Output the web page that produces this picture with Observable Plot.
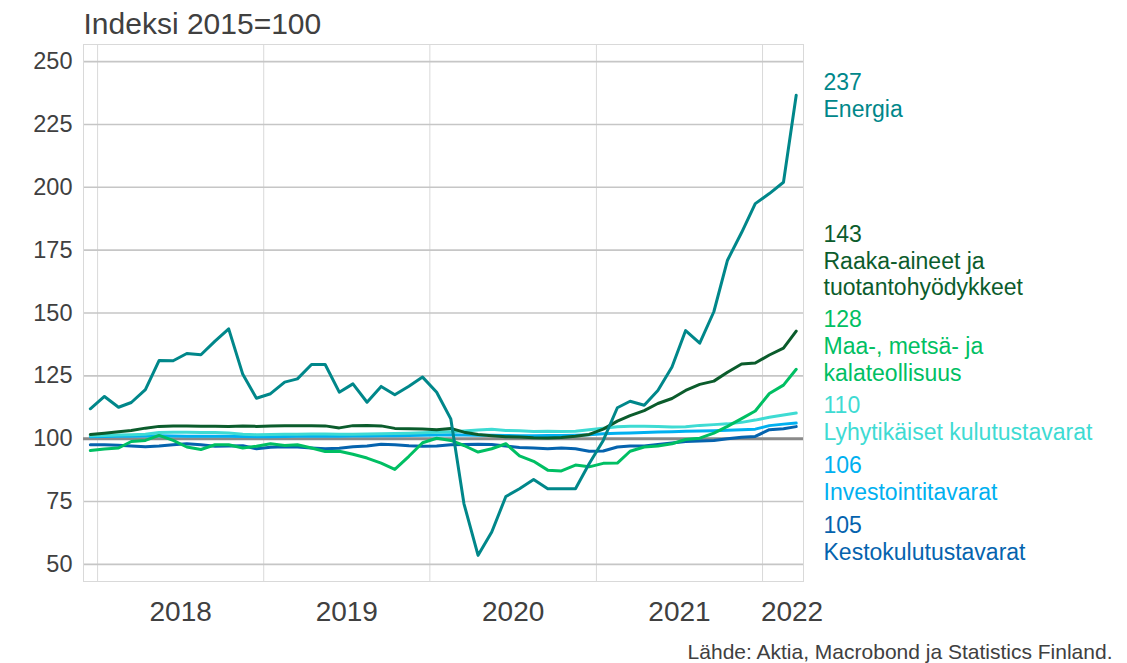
<!DOCTYPE html>
<html><head><meta charset="utf-8">
<script src="https://cdn.jsdelivr.net/npm/d3@7"></script>
<script src="https://cdn.jsdelivr.net/npm/@observablehq/plot@0.6"></script>
<style>body{margin:0;background:#fff} svg{display:block}</style>
</head><body><div id="chart"></div>
<script>
// Months (Dec 2017 – Mar 2022)
const months = ["2017-12",
 "2018-01","2018-02","2018-03","2018-04","2018-05","2018-06","2018-07","2018-08","2018-09","2018-10","2018-11","2018-12",
 "2019-01","2019-02","2019-03","2019-04","2019-05","2019-06","2019-07","2019-08","2019-09","2019-10","2019-11","2019-12",
 "2020-01","2020-02","2020-03","2020-04","2020-05","2020-06","2020-07","2020-08","2020-09","2020-10","2020-11","2020-12",
 "2021-01","2021-02","2021-03","2021-04","2021-05","2021-06","2021-07","2021-08","2021-09","2021-10","2021-11","2021-12",
 "2022-01","2022-02","2022-03"];

const seriesNames = ["Energia","Raaka-aineet ja\ntuotantohyödykkeet","Maa-, metsä- ja\nkalateollisuus","Lyhytikäiset kulutustavarat","Investointitavarat","Kestokulutustavarat"];

const energia = [111.9,116.8,112.5,114.4,119.5,131.1,131.0,133.9,133.4,138.8,143.7,125.6,116.1,117.9,122.5,123.8,129.5,129.5,118.5,121.8,114.5,120.8,117.5,120.9,124.5,118.5,107.9,74.1,53.6,62.9,77.0,80.1,83.8,80.1,80.1,80.1,90.0,99.3,112.3,114.9,113.3,119.2,128.5,143.0,138.0,150.5,171.0,182.0,193.5,197.5,202.0,236.6];
const raaka = [101.7,102.2,102.8,103.3,104.2,104.9,105.1,105.1,105.0,105.0,104.9,105.1,104.9,105.1,105.2,105.2,105.2,105.1,104.3,105.2,105.3,105.1,104.1,104.0,103.9,103.6,104.1,102.6,101.7,101.2,100.8,100.7,100.4,100.3,100.5,101.0,101.7,103.8,107.0,109.2,111.2,114.0,116.0,119.2,121.6,122.9,126.4,129.7,130.1,133.3,136.0,142.8];
const maa = [95.3,95.9,96.3,98.9,99.3,101.3,99.3,96.7,95.7,97.6,97.6,96.3,97.0,98.0,97.3,97.6,96.3,94.9,95.0,93.8,92.3,90.3,87.8,93.0,98.4,100.2,99.3,97.3,94.7,96.0,98.0,93.2,91.0,87.5,87.2,89.5,88.8,90.2,90.3,95.0,96.7,97.1,98.0,99.7,100.2,102.2,104.9,108.0,111.0,118.0,121.3,127.6];
const lyhyt = [101.2,101.3,101.5,101.6,101.8,102.5,102.6,102.6,102.5,102.5,102.3,101.8,101.6,101.7,101.8,101.8,101.9,101.9,101.8,101.8,101.9,102.0,102.1,102.2,102.4,102.6,102.8,103.1,103.5,103.8,103.3,103.2,102.9,103.0,102.9,103.0,103.6,104.2,104.8,105.0,105.0,104.9,104.7,104.8,105.3,105.6,105.9,106.5,107.4,108.5,109.4,110.2];
const invest = [100.8,100.9,101.0,101.0,101.1,101.2,101.1,101.0,101.0,101.0,101.0,100.9,100.8,100.8,100.9,101.0,101.0,101.0,101.0,101.1,101.1,101.2,101.2,101.3,101.4,101.5,101.6,101.5,101.4,101.4,101.3,101.2,101.2,101.3,101.3,101.4,101.6,102.0,102.2,102.3,102.5,102.7,102.8,103.0,103.1,103.2,103.4,103.6,103.8,105.2,105.8,106.2];
const kesto = [97.6,97.6,97.4,97.1,96.8,97.1,97.6,98.0,97.6,97.0,97.1,97.2,96.0,96.6,96.8,96.7,96.3,96.0,96.2,96.8,97.1,97.8,97.6,97.2,97.0,97.1,97.6,97.7,97.8,97.7,97.1,96.5,96.3,96.0,96.3,96.0,95.0,95.1,96.7,97.1,97.1,97.7,98.3,98.9,99.1,99.3,100.0,100.6,100.9,103.6,104.0,104.8];

const yTicks = [50,75,100,125,150,175,200,225,250];
const yearLabels = ["2018","2019","2020","2021","2022"];
const title = "Indeksi 2015=100";
const caption = "Lähde: Aktia, Macrobond ja Statistics Finland.";

// styling / layout
const colors = ["#00878A","#0B5C2C","#00BF63","#3EDBD3","#00B0F0","#0563AE"];
const labelTop = [246.3,186.0,151.9,117.7,93.9,70.0]; // label block positions (y units)

const seriesValues = [energia, raaka, maa, lyhyt, invest, kesto];
const parse = s => new Date(Date.UTC(+s.slice(0,4), +s.slice(5,7)-1, 16));
const rows = [];
[5,4,3,2,1,0].forEach(k => {
  seriesValues[k].forEach((v,i) => rows.push({series: seriesNames[k], date: parse(months[i]), value: v}));
});
const xStart = new Date(Date.UTC(2017,11,1)), xEnd = new Date(Date.UTC(2022,3,1));
const yearStarts = yearLabels.map(y => new Date(Date.UTC(+y,0,1)));
const yearMid = yearLabels.map(y => {
  const a = Math.max(+new Date(Date.UTC(+y,0,1)), +xStart), b = Math.min(+new Date(Date.UTC(+y+1,0,1)), +xEnd);
  return {label: y, date: new Date((a+b)/2), partial: b - a < 300*864e5};
});
const labels = seriesNames.map((n,k) => ({series: n, y: labelTop[k],
  text: Math.round(seriesValues[k][seriesValues[k].length-1]) + "\n" + n}));

const yearStyle = {x: "date", text: "label", frameAnchor: "bottom", dy: 31, lineAnchor: "middle", fontSize: 28};

const chart = Plot.plot({
  width: 1127, height: 663,
  marginLeft: 83, marginRight: 324, marginTop: 44, marginBottom: 82,
  style: {fontFamily: "'Liberation Sans', Arial, sans-serif", background: "#fff", color: "#404040"},
  x: {type: "utc", domain: [xStart, xEnd], axis: null},
  y: {domain: [43.2, 256.8], axis: null},
  color: {domain: seriesNames, range: colors},
  marks: [
    Plot.ruleX(yearStarts, {stroke: "#d9d9d9", strokeWidth: 1}),
    Plot.ruleY(yTicks, {stroke: "#c6c6c6", strokeWidth: 1.6}),
    Plot.frame({stroke: "#d9d9d9"}),
    Plot.ruleY([100], {stroke: "#8a8a8a", strokeWidth: 3}),
    Plot.lineY(rows, {x: "date", y: "value", z: "series", stroke: "series", strokeWidth: 3, strokeLinejoin: "round"}),
    Plot.axisY({ticks: yTicks, tickSize: 0, tickPadding: 11, fontSize: 23.5}),
    Plot.text(yearMid, {...yearStyle, filter: d => !d.partial}),
    Plot.text(yearMid, {...yearStyle, filter: d => d.partial, dx: 9}),
    Plot.text(labels, {y: "y", text: "text", fill: "series", frameAnchor: "right", dx: 20, textAnchor: "start", lineAnchor: "top", fontSize: 23, lineHeight: 1.17}),
    Plot.text([title], {frameAnchor: "top-left", dy: -20, textAnchor: "start", lineAnchor: "middle", fontSize: 30}),
    Plot.text([caption], {frameAnchor: "bottom-right", dx: 309, dy: 70.6, textAnchor: "end", lineAnchor: "middle", fontSize: 21})
  ]
});
document.getElementById("chart").appendChild(chart);
</script>
</body></html>
